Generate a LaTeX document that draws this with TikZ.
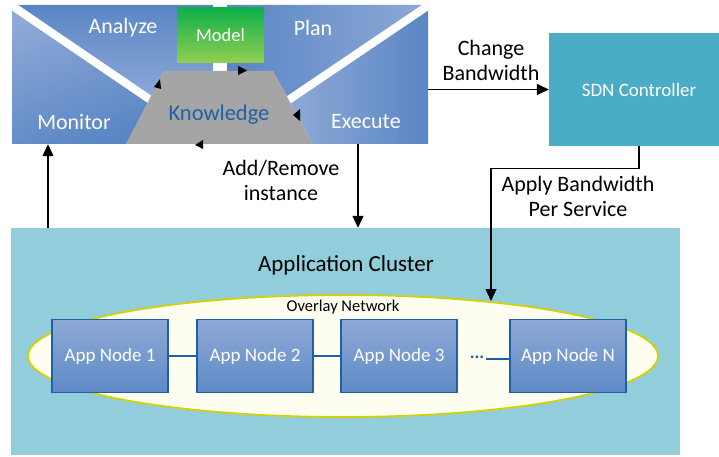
\documentclass[tikz,border=0pt]{standalone}
\usepackage{fontspec}
\setmainfont{Carlito}
\usetikzlibrary{arrows.meta,shapes.geometric,calc}
\definecolor{mblue}{HTML}{6A8FCB}
\definecolor{mdark}{HTML}{5A86C5}
\definecolor{mlight}{HTML}{8EA9D6}
\definecolor{sdncol}{HTML}{4BACC6}
\definecolor{clcol}{HTML}{92CDDC}
\definecolor{ovfill}{HTML}{FDFDF0}
\definecolor{ovline}{HTML}{D2D200}
\definecolor{nodeline}{HTML}{1F5FA8}
\definecolor{ntop}{HTML}{8EA9D5}
\definecolor{nbot}{HTML}{5E8AC7}
\definecolor{kgrey}{HTML}{A5A5A5}
\definecolor{ktext}{HTML}{1F62A6}
\definecolor{gtop}{HTML}{0FAF4B}
\definecolor{gbot}{HTML}{92D050}
\tikzset{
  arr/.style={line width=1.3pt,-{Triangle[length=12pt,width=11pt]}},
  lbl/.style={align=center,font=\fontsize{22}{25}\selectfont,inner sep=0pt},
  wlbl/.style={text=white,font=\fontsize{22}{24}\selectfont,inner sep=0pt},
  appnode/.style={rectangle,draw=nodeline,line width=1.6pt,top color=ntop,bottom color=nbot,
    minimum width=116pt,minimum height=73pt,text=white,font=\fontsize{19}{22}\selectfont},
  tick/.style={fill=black},
}
\begin{document}
\begin{tikzpicture}[x=1pt,y=-1pt]
\useasboundingbox (0,0) rectangle (719,457);
% MAPE-K box regions
\node[minimum width=416pt,minimum height=139pt,inner sep=0pt] (mape) at (220,74.5) {};
\shade[top color=mlight,bottom color=mdark,shading angle=20] (12,5) -- (150,100) -- (126,144) -- (12,144) -- cycle;
\shade[top color=mdark,bottom color=mlight] (12,5) -- (213,5) -- (213,71) -- (164,71) -- (150,100) -- cycle;
\shade[left color=mdark,right color=mlight] (227,5) -- (428,5) -- (289,100) -- (273,71) -- (227,71) -- cycle;
\shade[left color=mlight,right color=mdark] (428,5) -- (428,144) -- (313,144) -- (289,100) -- cycle;
\begin{scope}
\clip (12,5) rectangle (428,144);
\draw[white,line width=8pt] (8,3) -- (152,101);
\draw[white,line width=8pt] (432,3) -- (287,101);
\end{scope}
\fill[white] (213,0) rectangle (227,71);
% Knowledge trapezoid
\fill[kgrey] (164,71) -- (273,71) -- (313,144) -- (126,144) -- cycle;
\node[text=ktext,font=\fontsize{22.5}{25}\selectfont,inner sep=0pt] (know) at (219,115) {Knowledge};
% Model
\node[rectangle,minimum width=87pt,minimum height=55pt,top color=gtop,bottom color=gbot,
  text=white,font=\fontsize{18.5}{21}\selectfont] (model) at (220.5,35.5) {Model};
% MAPE labels
\node[wlbl] (analyze) at (123,28) {Analyze};
\node[wlbl] (plan) at (313,28) {Plan};
\node[wlbl] (monitor) at (74,122) {Monitor};
\node[wlbl] (execute) at (366,122) {Execute};
% cycle ticks
\fill[tick] (154,87) -- (160,79) -- (161,89) -- cycle;
\fill[tick] (238,66) -- (247,70.5) -- (238,75) -- cycle;
\fill[tick] (293,115) -- (300,109) -- (300,121) -- cycle;
\fill[tick] (195,145) -- (203,140) -- (203,149) -- cycle;
% SDN controller
\node[rectangle,fill=sdncol,minimum width=180pt,minimum height=113pt,text=white,
  font=\fontsize{19}{22}\selectfont] (sdn) at (639,89.5) {SDN Controller};
% Application cluster
\node[rectangle,fill=clcol,minimum width=669pt,minimum height=227pt,inner sep=0pt] (cluster) at (345.5,341.5) {};
\node[font=\fontsize{23}{26}\selectfont,inner sep=0pt] (cltitle) at (346,265) {Application Cluster};
\node[ellipse,draw=ovline,fill=ovfill,line width=1.8pt,minimum width=630pt,minimum height=122pt,inner sep=0pt] (ov) at (343,356) {};
\node[font=\fontsize{16.5}{19}\selectfont,inner sep=0pt] (ovlbl) at (343,307) {Overlay Network};
% App nodes
\node[appnode] (n1) at (110,356) {App Node 1};
\node[appnode] (n2) at (255,356) {App Node 2};
\node[appnode] (n3) at (399,356) {App Node 3};
\node[appnode] (nn) at (568,356) {App Node N};
\node[text=nodeline,font=\bfseries\fontsize{18}{20}\selectfont,inner sep=0pt] (dots) at (477,357) {...};
\draw[nodeline,line width=1.4pt] (n1) -- (n2);
\draw[nodeline,line width=1.4pt] (n2) -- (n3);
\draw[nodeline,line width=1.4pt] (dots.east) ++(2,2) coordinate (dd) -- (dd -| nn.west);
% connectors
\draw[arr] (mape.east |- sdn.west) -- (sdn.west);
\node[lbl] (cb) at (491,60) {Change\\Bandwidth};
\coordinate (ar) at (358,0);
\draw[arr] (mape.south -| ar) -- (cluster.north -| ar);
\node[lbl] (addrm) at (281,180) {Add/Remove\\instance};
\coordinate (mo) at (48,0);
\draw[arr] (cluster.north -| mo) -- (mape.south -| mo);
\coordinate (ap) at (491,301);
\draw[arr] (sdn.south) -- ++(0,22) -| (ap);
\node[lbl] (apply) at (578,196) {Apply Bandwidth\\Per Service};
\end{tikzpicture}
\end{document}
